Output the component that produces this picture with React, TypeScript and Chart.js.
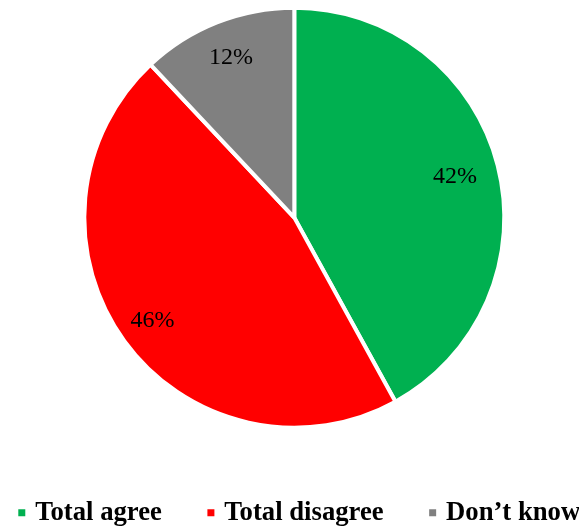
import React, { useEffect, useRef } from 'react';
import { Chart, registerables } from 'chart.js';

Chart.register(...registerables);

// ---- data ----
const categories = ['Total agree', 'Total disagree', 'Don\u2019t know'];
const shares = [42, 46, 12];

// ---- styles ----
const sliceColors = ['#00B050', '#FF0000', '#808080'];
const LABEL_RADIUS = [0.79, 0.835, 0.82];
const SERIF = "'Liberation Serif', 'Times New Roman', serif";

const sliceLabelPlugin = {
  id: 'sliceLabels',
  afterDatasetsDraw(chart: any) {
    const ctx = chart.ctx;
    const meta = chart.getDatasetMeta(0);
    ctx.save();
    ctx.font = `24px ${SERIF}`;
    ctx.fillStyle = '#000000';
    ctx.textAlign = 'center';
    ctx.textBaseline = 'middle';
    meta.data.forEach((arc: any, i: number) => {
      const p = arc.getProps(['x', 'y', 'startAngle', 'endAngle', 'outerRadius'], true);
      const mid = (p.startAngle + p.endAngle) / 2;
      const r = p.outerRadius * LABEL_RADIUS[i];
      ctx.fillText(`${shares[i]}%`, p.x + Math.cos(mid) * r, p.y + Math.sin(mid) * r);
    });
    ctx.restore();
  },
};

export default function App() {
  const canvasRef = useRef<HTMLCanvasElement | null>(null);

  useEffect(() => {
    if (!canvasRef.current) return;
    const chart = new Chart(canvasRef.current, {
      type: 'pie',
      data: {
        labels: categories,
        datasets: [
          {
            data: shares,
            backgroundColor: sliceColors,
            borderColor: '#FFFFFF',
            borderWidth: 4,
            radius: 210,
            hoverOffset: 0,
          } as any,
        ],
      },
      options: {
        responsive: false,
        animation: false,
        devicePixelRatio: 1,
        layout: { padding: 0 },
        plugins: {
          tooltip: { enabled: false },
          title: {
            display: true,
            position: 'right',
            fullSize: false,
            text: '',
            font: { size: 1, lineHeight: 1 },
            padding: { top: 12.4, bottom: 0 },
          },
          legend: {
            display: true,
            position: 'bottom',
            align: 'center',
            labels: {
              usePointStyle: true,
              pointStyle: 'rect',
              boxWidth: 0.01,
              boxHeight: 7,
              padding: 49,
              color: '#000000',
              font: { family: SERIF, size: 26.7, weight: 'bold' },
              generateLabels: (c: any) =>
                (Chart as any).overrides.pie.plugins.legend.labels
                  .generateLabels(c)
                  .map((item: any) => ({ ...item, lineWidth: 0 })),
            },
          },
        },
      } as any,
      plugins: [sliceLabelPlugin],
    });
    return () => chart.destroy();
  }, []);

  return (
    <div
      style={{
        position: 'fixed',
        left: 0,
        top: 0,
        width: 579,
        height: 528,
        overflow: 'hidden',
        background: '#ffffff',
      }}
    >
      <div style={{ position: 'absolute', left: -49, top: -15, width: 700, height: 551 }}>
        <canvas ref={canvasRef} width={700} height={551} style={{ display: 'block' }} />
      </div>
    </div>
  );
}
